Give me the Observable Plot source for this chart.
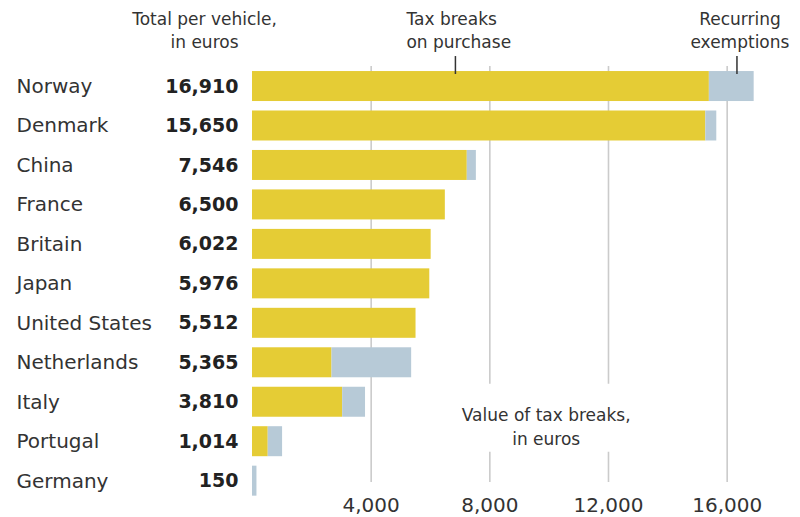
<!DOCTYPE html>
<html><head><meta charset="utf-8">
<script src="https://cdn.jsdelivr.net/npm/d3@7"></script>
<script src="https://cdn.jsdelivr.net/npm/@observablehq/plot@0.6"></script>
<style>body{margin:0;background:#fff;}</style>
</head><body><div id="chart"></div>
<script>
const countries = ["Norway", "Denmark", "China", "France", "Britain", "Japan", "United States", "Netherlands", "Italy", "Portugal", "Germany"];
const totals = [16910, 15650, 7546, 6500, 6022, 5976, 5512, 5365, 3810, 1014, 150];
const purchase = [15400, 15280, 7240, 6500, 6022, 5976, 5512, 2680, 3040, 530, 0];
const recurring = [1510, 370, 306, 0, 0, 0, 0, 2685, 770, 484, 150];
const seriesNames = ["Tax breaks on purchase", "Recurring exemptions"];
const seriesColors = ["#e5cc35", "#b7cad7"];
const xTicks = [4000, 8000, 12000, 16000];

const annoLabels = ["Tax breaks\non purchase", "Recurring\nexemptions"];
const annoTextX = [5190, 16430];
const annoTickX = [6840, 16330];

const rows = countries.map((c, i) => ({country: c, total: totals[i]}));
const segs = [];
countries.forEach((c, i) => {
  segs.push({country: c, type: seriesNames[0], value: purchase[i]});
  segs.push({country: c, type: seriesNames[1], value: recurring[i]});
});
const annos = annoLabels.map((l, i) => ({label: l, tx: annoTextX[i], kx: annoTickX[i]}));
const fmt = d3.format(",");

const chart = Plot.plot({
  width: 800, height: 517,
  marginLeft: 252, marginRight: 14, marginTop: 66, marginBottom: 35,
  style: {fontFamily: "DejaVu Sans", color: "#333", background: "white", overflow: "visible"},
  x: {domain: [0, 18000]},
  y: {domain: countries, range: [66.3, 500.4], paddingInner: 0.24, paddingOuter: 0.12, round: false, axis: null},
  color: {domain: seriesNames, range: seriesColors},
  marks: [
    Plot.gridX(xTicks, {stroke: "#cbcbcb", strokeOpacity: 1, strokeWidth: 1.6}),
    Plot.barX([{c: "Italy"}], {x1: () => 7000, x2: () => 13200, y: "c", fill: "white", insetTop: -3, insetBottom: -35}),
    Plot.barX(segs, {x: "value", y: "country", fill: "type"}),
    Plot.axisX(xTicks, {tickSize: 0, tickPadding: 15, fontSize: 20, tickFormat: fmt, label: null, fill: "#333"}),
    Plot.text(countries, {y: d => d, text: d => d, frameAnchor: "left", textAnchor: "start", dx: -236, fontSize: 20, fill: "#333"}),
    Plot.text(rows, {y: "country", text: d => fmt(d.total), frameAnchor: "left", textAnchor: "end", dx: -14, fontSize: 19, fontWeight: "bold", fill: "#222"}),
    Plot.text([annos[0]], {x: "tx", text: "label", frameAnchor: "top", textAnchor: "start", lineAnchor: "top", dy: -59, fontSize: 17, lineHeight: 1.41, fill: "#333"}),
    Plot.text([annos[1]], {x: "tx", text: "label", frameAnchor: "top", textAnchor: "middle", lineAnchor: "top", dy: -59, fontSize: 17, lineHeight: 1.41, fill: "#333"}),
    Plot.tickX(annos, {x: "kx", y: () => "Norway", insetTop: -15, insetBottom: 27, stroke: "#333", strokeWidth: 1.5}),
    Plot.text(["Total per vehicle,\nin euros"], {frameAnchor: "top-left", dx: -48, dy: -59, lineAnchor: "top", textAnchor: "middle", fontSize: 17, lineHeight: 1.41, fill: "#333"}),
    Plot.text(["Value of tax breaks,\nin euros"], {x: () => 9900, y: () => "Italy", lineAnchor: "top", textAnchor: "middle", dy: 2, fontSize: 17, lineHeight: 1.41, fill: "#333"})
  ]
});
document.getElementById("chart").appendChild(chart);
</script>
</body></html>
